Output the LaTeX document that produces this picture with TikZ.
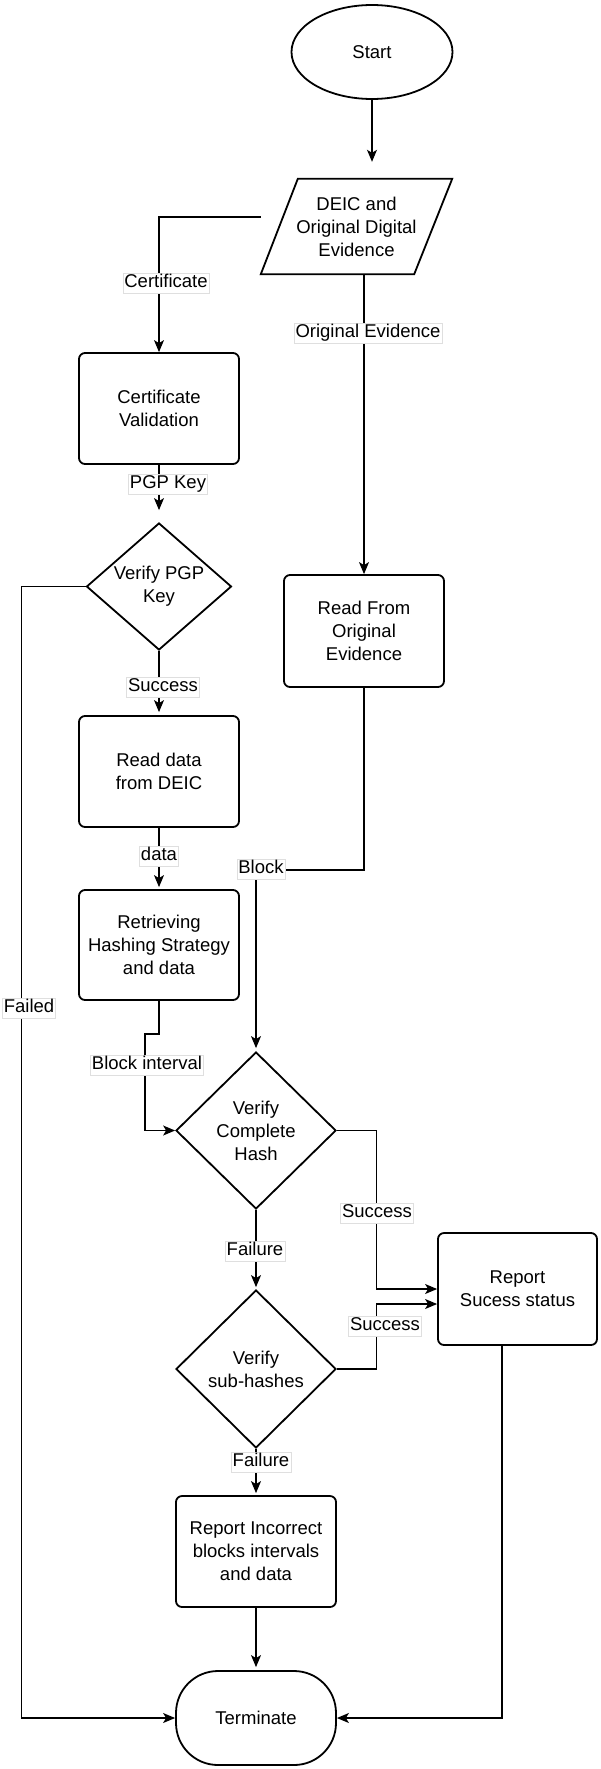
\documentclass[tikz,border=0pt]{standalone}
\usepackage{fontspec}
\setmainfont{Liberation Sans}
\usetikzlibrary{shapes.geometric,arrows.meta}
\newcommand\mfs{\fontsize{18.5pt}{23pt}\selectfont}
\begin{document}
\begin{tikzpicture}[x=1pt,y=-1pt,
  every node/.style={font=\mfs},
  nline/.style={line width=1.8pt},
  box/.style={draw, nline, rounded corners=6pt, minimum width=160pt, minimum height=111pt, align=center, inner sep=0pt},
  dia/.style={draw, diamond, nline, line join=miter, inner sep=0pt, align=center},
  lbl/.style={fill=white, draw=gray!25, line width=0.4pt, inner sep=1.5pt, text height=13.5pt, text depth=4pt},
  conn/.style={line width=1.2pt},
  arr/.style={conn, -{Stealth[length=12pt,width=10pt,inset=3pt]}}]
\useasboundingbox (0,0) rectangle (600,1769);
\fill[white] (0,0) rectangle (600,1769);

% nodes
\node[draw, ellipse, nline, minimum width=161pt, minimum height=94pt, inner sep=0pt] (start) at (372,52) {Start};
\node[minimum width=191pt, minimum height=95pt, inner sep=0pt, align=center] (para) at (356.5,226.5) {DEIC and\\Original Digital\\Evidence};
\draw[nline, line join=miter] ([xshift=37pt]para.north west) -- (para.north east) -- ([xshift=-38pt]para.south east) -- (para.south west) -- cycle;
\node[box] (certval) at (159,408.5) {Certificate\\Validation};
\node[dia, aspect=1.14, minimum width=145pt, minimum height=127pt] (pgp) at (159,586.5) {Verify PGP\\Key};
\node[box] (readdeic) at (159,771.5) {Read data\\from DEIC};
\node[box, minimum height=110pt] (retr) at (159,945) {Retrieving\\Hashing Strategy\\and data};
\node[box, minimum height=112pt] (readorig) at (364,631) {Read From\\Original\\Evidence};
\node[dia, aspect=1.02, minimum width=160pt, minimum height=157pt] (vch) at (256,1130.5) {Verify\\Complete\\Hash};
\node[dia, aspect=1.01, minimum width=160pt, minimum height=158pt] (vsub) at (256,1369) {Verify\\sub-hashes};
\node[box] (repinc) at (256,1551.5) {Report Incorrect\\blocks intervals\\and data};
\node[draw, nline, rounded corners=42pt, minimum width=160pt, minimum height=94pt, inner sep=0pt] (term) at (256,1718) {Terminate};
\node[box, minimum width=159pt, minimum height=112pt] (repsuc) at (517.5,1289) {Report\\Sucess status};

% connectors
\draw[arr, shorten >=17pt] (start.south) -- (start.south |- para.north);
\draw[arr] ([yshift=9.5pt]para.west) -| (certval.north);
\draw[arr] (para.south -| readorig.north) -- (readorig.north);
\draw[arr, shorten >=12pt] (certval.south) -- (pgp.north);
\draw[arr] (pgp.west) -- ++(-64,0) |- (term.west);
\draw[arr, shorten >=3pt] (pgp.south) -- (readdeic.north);
\draw[arr, shorten >=2pt] (readdeic.south) -- (retr.north);
\draw[arr, shorten >=3pt] (readorig.south) -- ++(0,182) -| (vch.north);
\draw[arr] (retr.south) -- ++(0,33) -- ++(-14,0) |- (vch.west);
\draw[arr] (vch.east) -- ++(39.5,0) |- (repsuc.west);
\draw[arr] (vsub.east) -- ++(39.5,0) |- ([yshift=-15pt]repsuc.west);
\draw[arr, shorten >=2pt] (vch.south) -- (vsub.north);
\draw[arr, shorten >=2pt] (vsub.south) -- (repinc.north);
\draw[arr, shorten >=3pt] (repinc.south) -- (term.north);
\draw[arr] ([xshift=-15.5pt]repsuc.south) |- (term.east);

% labels
\node[lbl] (lcert) at (166,283) {Certificate};
\node[lbl] (lorig) at (368,333) {Original Evidence};
\node[lbl] (lpgp) at (168,484) {PGP Key};
\node[lbl] (lfail) at (29,1008) {Failed};
\node[lbl] (lsucc1) at (163,687) {Success};
\node[lbl] (ldata) at (159,856) {data};
\node[lbl] (lblock) at (261,869) {Block};
\node[lbl] (lbi) at (147,1065) {Block interval};
\node[lbl] (lsucc2) at (377,1213) {Success};
\node[lbl] (lsucc3) at (385,1326) {Success};
\node[lbl] (lfail1) at (255,1251) {Failure};
\node[lbl] (lfail2) at (261,1462) {Failure};
\end{tikzpicture}
\end{document}
